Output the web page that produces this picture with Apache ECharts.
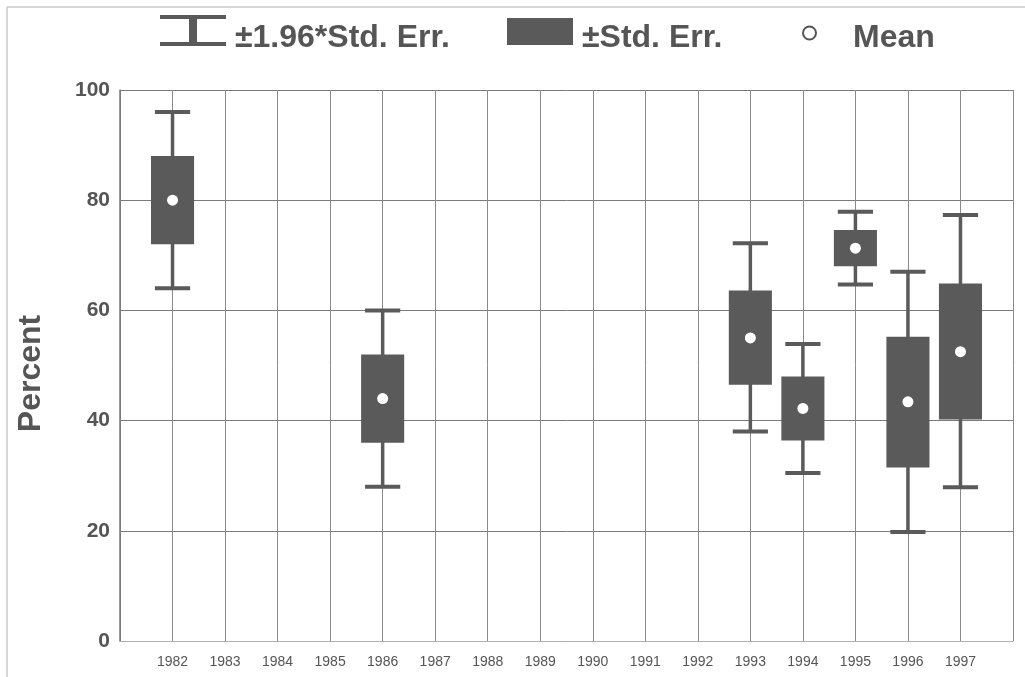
<!DOCTYPE html>
<html>
<head>
<meta charset="utf-8">
<script src="https://cdn.jsdelivr.net/npm/echarts@6/dist/echarts.min.js"></script>
<style>
html,body{margin:0;padding:0;background:#fff;}
#chart{width:1025px;height:677px;}
</style>
</head>
<body>
<div id="chart"></div>
<script>
// Data
const years = [1982, 1986, 1993, 1994, 1995, 1996, 1997];
const ciLow  = [64, 28, 38.0, 30.5, 64.7, 19.8, 27.9];   // mean - 1.96*SE
const seLow  = [72, 36, 46.5, 36.4, 68.0, 31.5, 40.2];   // mean - SE
const means  = [80, 44, 55.0, 42.2, 71.3, 43.4, 52.5];
const seHigh = [88, 52, 63.6, 48.0, 74.6, 55.2, 64.9];   // mean + SE
const ciHigh = [96, 60, 72.2, 53.9, 77.9, 67.0, 77.3];   // mean + 1.96*SE
const yTicks = [0, 20, 40, 60, 80, 100];
const xLabelYears = [1982,1983,1984,1985,1986,1987,1988,1989,1990,1991,1992,1993,1994,1995,1996,1997];

const whiskerData = years.map((y, i) => [y, ciLow[i], ciHigh[i]]);
const boxData = years.map((y, i) => [y, seLow[i], seHigh[i]]);
const meanData = years.map((y, i) => [y, means[i]]);

const DARK = '#5a5a5a';
const TXT = '#555';
const FONT = '"Liberation Sans", Arial, sans-serif';

function legendText(padTop, padLeft) {
  return {
    color: TXT, fontSize: 32, fontWeight: 'bold', fontFamily: FONT,
    rich: { t: { color: TXT, fontSize: 32, fontWeight: 'bold', fontFamily: FONT, padding: [padTop, 0, 0, padLeft] } }
  };
}

const chart = echarts.init(document.getElementById('chart'));
chart.setOption({
  animation: false,
  backgroundColor: '#fff',
  graphic: [
    { type: 'line', shape: { x1: 7, y1: 7, x2: 1025, y2: 7 }, style: { stroke: '#c8c8c8', lineWidth: 1.5 }, silent: true },
    { type: 'line', shape: { x1: 7, y1: 7, x2: 7, y2: 677 }, style: { stroke: '#c8c8c8', lineWidth: 1.5 }, silent: true }
  ],
  legend: [
    {
      left: 160, top: 15, padding: 0,
      itemWidth: 66, itemHeight: 31,
      formatter: '{t|{name}}',
      data: [{ name: '±1.96*Std. Err.', icon: 'path://M0,0H66V4H37V27H66V31H0V27H29V4H0Z' }],
      textStyle: legendText(15, 4)
    },
    {
      left: 507, top: 18, padding: 0,
      itemWidth: 66, itemHeight: 27,
      formatter: '{t|{name}}',
      data: [{ name: '±Std. Err.', icon: 'rect' }],
      textStyle: legendText(14, 4)
    },
    {
      left: 802, top: 22, padding: 0,
      itemWidth: 13, itemHeight: 13,
      formatter: '{t|{name}}',
      data: [{ name: 'Mean', icon: 'circle', itemStyle: { color: '#fff', borderColor: TXT, borderWidth: 2, opacity: 1 } }],
      textStyle: legendText(10, 32)
    }
  ],
  grid: { left: 120, right: 12, top: 90, bottom: 36 },
  xAxis: {
    type: 'value',
    min: 1981, max: 1998, interval: 1,
    axisLine: { show: true, lineStyle: { color: '#b0b0b0', width: 1 } },
    axisTick: { show: false },
    axisLabel: {
      color: TXT, fontSize: 14, fontFamily: FONT, margin: 14,
      formatter: v => (xLabelYears.indexOf(v) >= 0 ? String(v) : '')
    },
    splitLine: { show: true, lineStyle: { color: '#8a8a8a', width: 1 } }
  },
  yAxis: {
    type: 'value',
    min: 0, max: 100, interval: 20,
    name: 'Percent',
    nameLocation: 'middle',
    nameGap: 73,
    nameTextStyle: { color: TXT, fontSize: 32, fontWeight: 'bold', fontFamily: FONT, padding: [0, 16, 0, 0] },
    axisLine: { show: true, lineStyle: { color: '#777', width: 1.5 } },
    axisTick: { show: false },
    axisLabel: {
      color: TXT, fontSize: 21, fontWeight: 'bold', fontFamily: FONT, margin: 10,
      formatter: v => (yTicks.indexOf(v) >= 0 ? String(v) : '')
    },
    splitLine: { show: true, lineStyle: { color: '#7a7a7a', width: 1 } }
  },
  series: [
    {
      name: '±1.96*Std. Err.',
      type: 'custom',
      itemStyle: { color: DARK },
      data: whiskerData,
      z: 2,
      renderItem: function (params, api) {
        const x = api.value(0);
        const lo = api.coord([x, api.value(1)]);
        const hi = api.coord([x, api.value(2)]);
        const capW = api.size([0.67, 0])[0];
        const st = { stroke: DARK, lineWidth: 3.5 };
        return {
          type: 'group',
          children: [
            { type: 'line', shape: { x1: lo[0], y1: lo[1], x2: hi[0], y2: hi[1] }, style: st },
            { type: 'line', shape: { x1: lo[0] - capW / 2, y1: lo[1], x2: lo[0] + capW / 2, y2: lo[1] }, style: { stroke: DARK, lineWidth: 4 } },
            { type: 'line', shape: { x1: hi[0] - capW / 2, y1: hi[1], x2: hi[0] + capW / 2, y2: hi[1] }, style: { stroke: DARK, lineWidth: 4 } }
          ]
        };
      }
    },
    {
      name: '±Std. Err.',
      type: 'custom',
      itemStyle: { color: DARK },
      data: boxData,
      z: 3,
      renderItem: function (params, api) {
        const x = api.value(0);
        const lo = api.coord([x, api.value(1)]);
        const hi = api.coord([x, api.value(2)]);
        const w = api.size([0.82, 0])[0];
        return {
          type: 'rect',
          shape: { x: lo[0] - w / 2, y: hi[1], width: w, height: lo[1] - hi[1] },
          style: { fill: DARK }
        };
      }
    },
    {
      name: 'Mean',
      type: 'scatter',
      symbol: 'circle',
      symbolSize: 11,
      itemStyle: { color: '#fff', borderWidth: 0, opacity: 1 },
      data: meanData,
      z: 4
    }
  ]
});
</script>
</body>
</html>
